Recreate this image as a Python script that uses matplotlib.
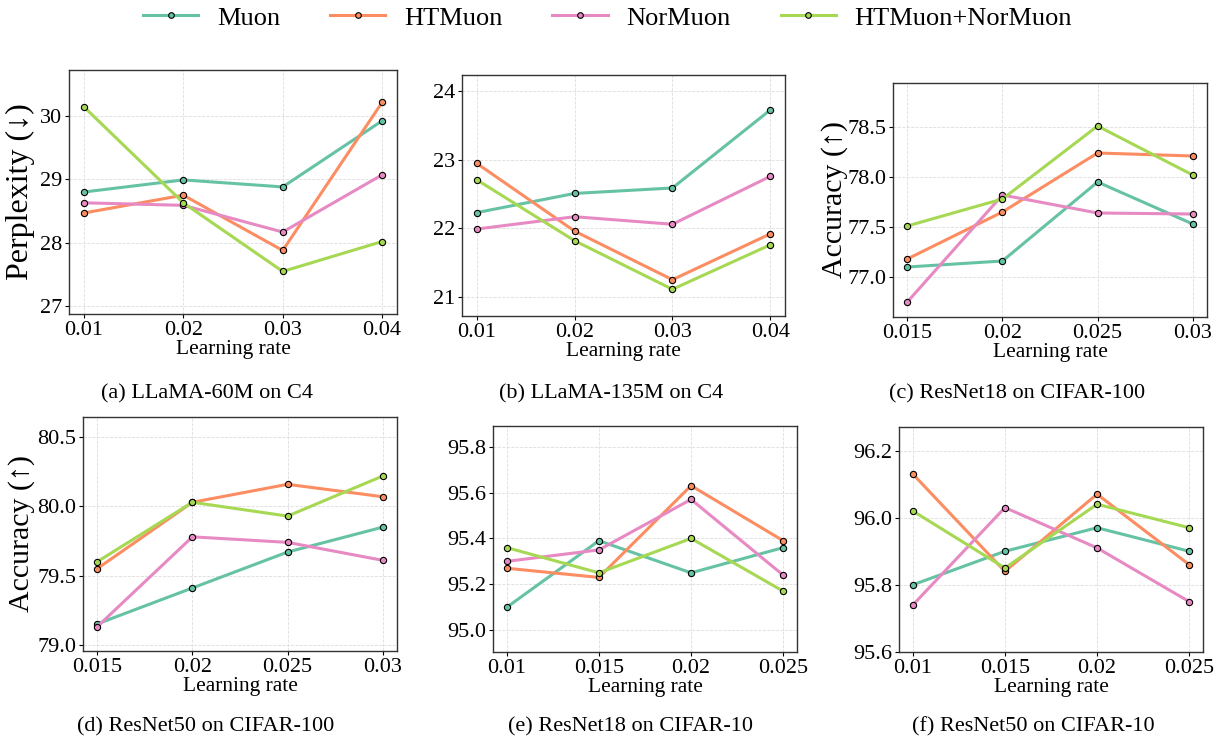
import matplotlib

matplotlib.use("Agg")
import matplotlib.pyplot as plt

plt.rcParams["font.family"] = ["Liberation Serif", "DejaVu Serif"]

# ---- data ----
methods = ["Muon", "HTMuon", "NorMuon", "HTMuon+NorMuon"]
colors = ["#66c2a5", "#fc8d62", "#e78ac3", "#a6d854"]

lr_a = [0.01, 0.02, 0.03, 0.04]
ppl_60m = [
    [28.80, 28.99, 28.88, 29.92],
    [28.47, 28.75, 27.88, 30.21],
    [28.63, 28.59, 28.17, 29.07],
    [30.14, 28.63, 27.55, 28.02],
]
lr_b = [0.01, 0.02, 0.03, 0.04]
ppl_135m = [
    [22.23, 22.51, 22.59, 23.73],
    [22.95, 21.96, 21.25, 21.92],
    [21.99, 22.17, 22.06, 22.76],
    [22.71, 21.82, 21.11, 21.76],
]
lr_c = [0.015, 0.02, 0.025, 0.03]
acc_r18_c100 = [
    [77.10, 77.16, 77.95, 77.53],
    [77.18, 77.65, 78.24, 78.21],
    [76.75, 77.82, 77.64, 77.63],
    [77.51, 77.78, 78.51, 78.02],
]
lr_d = [0.015, 0.02, 0.025, 0.03]
acc_r50_c100 = [
    [79.15, 79.41, 79.67, 79.85],
    [79.55, 80.03, 80.16, 80.07],
    [79.13, 79.78, 79.74, 79.61],
    [79.60, 80.03, 79.93, 80.22],
]
lr_e = [0.01, 0.015, 0.02, 0.025]
acc_r18_c10 = [
    [95.10, 95.39, 95.25, 95.36],
    [95.27, 95.23, 95.63, 95.39],
    [95.30, 95.35, 95.57, 95.24],
    [95.36, 95.25, 95.40, 95.17],
]
lr_f = [0.01, 0.015, 0.02, 0.025]
acc_r50_c10 = [
    [95.80, 95.90, 95.97, 95.90],
    [96.13, 95.84, 96.07, 95.86],
    [95.74, 96.03, 95.91, 95.75],
    [96.02, 95.85, 96.04, 95.97],
]

panels = [
    # lr, values, ylabel, ylim, yticks, caption, axes rect px (l, t, r, b), caption x, ylabel x
    (lr_a, ppl_60m, "Perplexity (↓)", (26.88, 30.72), [27, 28, 29, 30],
     "(a) LLaMA-60M on C4", (69, 70, 397, 314), 207, 35),
    (lr_b, ppl_135m, None, (20.72, 24.24), [21, 22, 23, 24],
     "(b) LLaMA-135M on C4", (462, 75, 785, 316), 611, None),
    (lr_c, acc_r18_c100, "Accuracy (↑)", (76.60, 78.94), [77.0, 77.5, 78.0, 78.5],
     "(c) ResNet18 on CIFAR-100", (893, 83, 1207, 317), 1017, 848),
    (lr_d, acc_r50_c100, "Accuracy (↑)", (78.954, 80.647), [79.0, 79.5, 80.0, 80.5],
     "(d) ResNet50 on CIFAR-100", (83, 417, 397, 651), 206, 35),
    (lr_e, acc_r18_c10, None, (94.905, 95.89), [95.0, 95.2, 95.4, 95.6, 95.8],
     "(e) ResNet18 on CIFAR-10", (493, 426, 797, 652), 630, None),
    (lr_f, acc_r50_c10, None, (95.6, 96.27), [95.6, 95.8, 96.0, 96.2],
     "(f) ResNet50 on CIFAR-10", (899, 427, 1203, 652), 1033, None),
]

W, H = 1215, 740
fig = plt.figure(figsize=(W / 100, H / 100), dpi=100)

lines = []
for lr, vals, ylab, ylim, yticks, cap, (l, t, r, b), capx, labx in panels:
    ax = fig.add_axes([l / W, 1 - b / H, (r - l) / W, (b - t) / H])
    for name, c, ys in zip(methods, colors, vals):
        ax.plot(lr, ys, color=c, lw=2.2, marker="o", ms=4.5,
                mfc=c, mec="black", mew=0.8, label=name)
    lines = ax.get_lines()
    ax.set_ylim(*ylim)
    ax.set_yticks(yticks)
    if isinstance(yticks[0], float):
        ax.set_yticklabels([f"{v:.1f}" for v in yticks])
    ax.set_xticks(lr)
    ax.set_xticklabels([f"{v:g}" for v in lr])
    ax.tick_params(labelsize=16, length=3, pad=2)
    ax.grid(True, ls="--", lw=0.6, color="#dddddd")
    ax.set_axisbelow(True)
    for s in ax.spines.values():
        s.set_color("#333333")
        s.set_linewidth(1.0)
    ax.set_xlabel("Learning rate", fontsize=15.5, labelpad=0)
    if ylab:
        ax.set_ylabel(ylab, fontsize=23 if "Perp" in ylab else 21.5)
        ax.yaxis.set_label_coords((labx - l) / (r - l), 0.5)
    cy = 394 if b < 400 else 727
    fig.text(capx / W, 1 - cy / H, cap, ha="center", va="center", fontsize=16)

fig.legend(lines, methods, loc="center", bbox_to_anchor=(0.5, 1 - 18 / H),
           ncol=4, frameon=False, fontsize=19, handlelength=2.1,
           columnspacing=1.9, handletextpad=0.7, markerscale=0.9)

fig.savefig("out.png", dpi=100)
